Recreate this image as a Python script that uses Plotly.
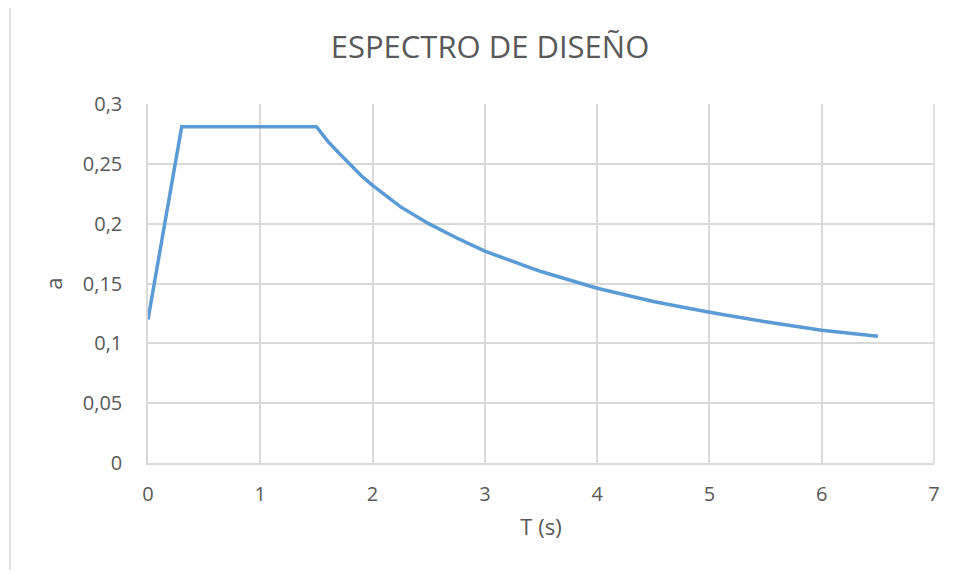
import plotly.graph_objects as go

# Period (s)
T = [0, 0.3, 1.5, 1.6, 1.7, 1.8, 1.9, 2.0, 2.25, 2.5, 2.75, 3.0, 3.5, 4.0, 4.5, 5.0, 5.5, 6.0, 6.5]
# Spectral acceleration
a = [0.120, 0.281, 0.281, 0.269, 0.259, 0.249, 0.240, 0.232, 0.214, 0.200, 0.188, 0.177,
     0.160, 0.146, 0.135, 0.126, 0.118, 0.111, 0.106]

x_ticks = [0, 1, 2, 3, 4, 5, 6, 7]
y_ticks = [0, 0.05, 0.1, 0.15, 0.2, 0.25, 0.3]
y_tick_labels = ["0", "0,05", "0,1", "0,15", "0,2", "0,25", "0,3"]

OFF = 8  # page body margin
W, H = 945, 562
L, TOP = 148 - OFF, 104 - OFF
R = (W + OFF) - 934
B = (H + OFF) - 463
pw, ph = W - L - R, H - TOP - B

fig = go.Figure()
fig.add_trace(go.Scatter(
    x=T, y=a, mode="lines",
    line=dict(color="#5B9BD5", width=3.5),
    hoverinfo="x+y", showlegend=False,
))

txt = "#595959"
grid = "#d9d9d9"
fig.update_layout(
    width=W, height=H,
    margin=dict(l=L, r=R, t=TOP, b=B),
    paper_bgcolor="white", plot_bgcolor="white",
    font=dict(family="Open Sans, sans-serif", color=txt, size=20),
    title=dict(text="ESPECTRO DE DISEÑO", x=(490 - OFF) / W, xanchor="center",
               y=1 - (47 - OFF) / H, yanchor="middle",
               font=dict(size=31, color=txt, family="Open Sans, sans-serif")),
    xaxis=dict(range=[0, 7], tickvals=x_ticks, ticktext=[str(v) for v in x_ticks],
               showgrid=True, gridcolor=grid, gridwidth=1.5,
               showline=True, linecolor=grid, linewidth=1.5,
               zeroline=False, ticks="", ticklen=0, ticklabelstandoff=12,
               tickfont=dict(size=20, color=txt),
               title=dict(text="T (s)", font=dict(size=22, color=txt), standoff=14)),
    yaxis=dict(range=[0, 0.3], tickvals=y_ticks, ticktext=y_tick_labels,
               showgrid=True, gridcolor=grid, gridwidth=1.5,
               showline=True, linecolor=grid, linewidth=1.5,
               zeroline=False, ticks="", ticklen=0, ticklabelstandoff=20,
               tickfont=dict(size=20, color=txt),
               title=dict(text="a", font=dict(size=22, color=txt), standoff=14)),
)

# Right border of plot area
fig.add_shape(type="line", xref="paper", yref="paper", x0=1, x1=1, y0=0, y1=1,
              line=dict(color=grid, width=1.5))

# Chart area border (cropped: left and top visible)
bx = (10 - OFF - L) / pw
by = 1 + (TOP - (6 - OFF)) / ph
fig.add_shape(type="path", xref="paper", yref="paper",
              path=f"M {bx} {-1} L {bx} {by} L {1.2} {by}",
              line=dict(color="#d9d9d9", width=1.5))

fig.write_html("out.html")
